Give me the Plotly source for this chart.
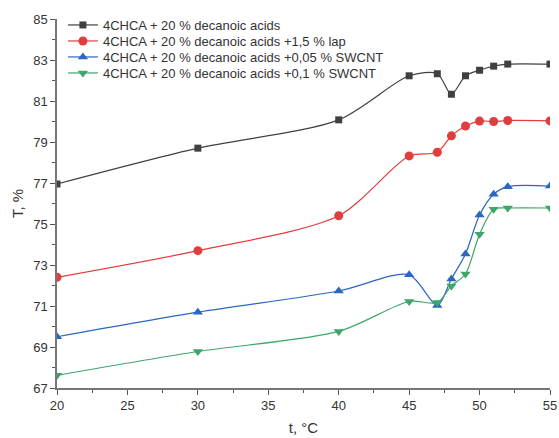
import plotly.graph_objects as go

temps_black = [20, 30, 40, 45, 47, 48, 49, 50, 51, 52, 55]
T_black = [76.95, 78.7, 80.08, 82.23, 82.33, 81.33, 82.23, 82.5, 82.7, 82.8, 82.8]

temps_red = [20, 30, 40, 45, 47, 48, 49, 50, 51, 52, 55]
T_red = [72.4, 73.7, 75.4, 78.32, 78.5, 79.3, 79.78, 80.02, 80.0, 80.05, 80.03]

temps_blue = [20, 30, 40, 45, 47, 48, 49, 50, 51, 52, 55]
T_blue = [69.5, 70.7, 71.73, 72.52, 71.02, 72.32, 73.54, 75.44, 76.45, 76.82, 76.85]

temps_green = [20, 30, 40, 45, 47, 48, 49, 50, 51, 52, 55]
T_green = [67.62, 68.78, 69.76, 71.22, 71.17, 71.98, 72.56, 74.5, 75.72, 75.78, 75.78]

names = [
    "4CHCA + 20 % decanoic acids",
    "4CHCA + 20 % decanoic acids +1,5 % lap",
    "4CHCA + 20 % decanoic acids +0,05 % SWCNT",
    "4CHCA + 20 % decanoic acids +0,1 % SWCNT",
]
colors = ["#404040", "#e23d3d", "#2a66c2", "#3da66a"]
symbols = ["square", "circle", "triangle-up", "triangle-down"]
sizes = [7, 9, 9, 9]
legend_ids = ["legend", "legend2", "legend3", "legend4"]
legend_rows_px = [25, 41, 57, 73]

series = [(temps_black, T_black), (temps_red, T_red), (temps_blue, T_blue), (temps_green, T_green)]

W, H = 559, 438
ML, MR, MT, MB = 57, 9, 19, 50
plot_h = H - MT - MB

fig = go.Figure()
for (xs, ys), name, c, s, sz, lid in zip(series, names, colors, symbols, sizes, legend_ids):
    fig.add_trace(go.Scatter(
        x=xs, y=ys, name=name, mode="lines+markers", legend=lid,
        line=dict(color=c, width=1.2, shape="spline", smoothing=0.8),
        marker=dict(symbol=s, size=sz, color=c),
    ))

font = "Liberation Sans, Arial, sans-serif"
legend_common = dict(x=0.012, xanchor="left", yanchor="middle",
                     bgcolor="rgba(0,0,0,0)", font=dict(size=13, color="#333333"),
                     itemwidth=30)
legends = {}
for lid, py in zip(legend_ids, legend_rows_px):
    legends[lid] = dict(legend_common, y=1 - (py - MT) / plot_h)

fig.update_layout(
    width=W, height=H,
    margin=dict(l=ML, r=MR, t=MT, b=MB),
    paper_bgcolor="white", plot_bgcolor="white",
    font=dict(family=font, size=13, color="#333333"),
    showlegend=True,
    **legends,
    xaxis=dict(
        range=[20, 55], tick0=20, dtick=5, ticks="outside", ticklen=5, tickwidth=1.3,
        tickcolor="#555555", showline=True, linecolor="#777777", linewidth=1.5,
        showgrid=False, zeroline=False, tickfont=dict(size=13), automargin=False,
        minor=dict(dtick=2.5, ticks="outside", ticklen=3, tickcolor="#555555", showgrid=False),
        title=dict(text="t, °C", font=dict(size=15), standoff=10),
    ),
    yaxis=dict(
        range=[67, 85], tick0=67, dtick=2, ticks="outside", ticklen=5, tickwidth=1.3,
        tickcolor="#555555", showline=True, linecolor="#777777", linewidth=1.5,
        showgrid=False, zeroline=False, tickfont=dict(size=13), automargin=False,
        minor=dict(dtick=1, ticks="outside", ticklen=3, tickcolor="#555555", showgrid=False),
        title=dict(text="T, %", font=dict(size=15), standoff=6),
    ),
)

fig.write_html("out.html")
